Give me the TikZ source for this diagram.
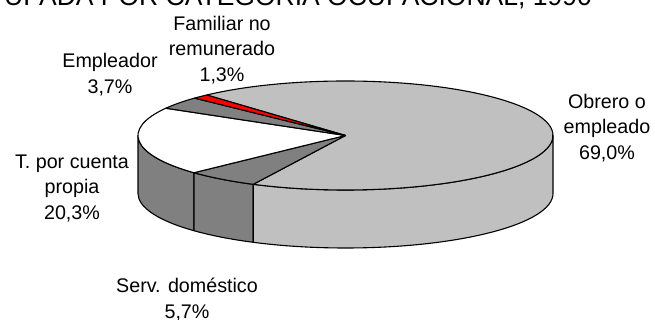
\documentclass[tikz,border=0pt]{standalone}
\usepackage{fontspec}
\setmainfont{Liberation Sans}
\definecolor{lightg}{HTML}{C0C0C0}
\definecolor{darkg}{HTML}{808080}
\begin{document}
\begin{tikzpicture}[x=1pt,y=1pt,
  lbl/.style={align=center,font=\fontsize{19.7}{25.5}\selectfont,inner sep=0pt},
  slice/.style={draw=black,line width=1.1pt,line join=round},
  ell/.style={x radius=207.5pt,y radius=54.5pt}]
\useasboundingbox (0,0) rectangle (655,320);
\coordinate (C) at (345.5,184.5);
% sides
\path[slice,fill=darkg] (C) ++(180:207.5pt and 54.5pt) arc[ell,start angle=180,end angle=223.08] -- ++(0,-58) arc[ell,start angle=223.08,end angle=180] -- cycle;
\path[slice,fill=darkg] (C) ++(223.08:207.5pt and 54.5pt) arc[ell,start angle=223.08,end angle=243.6] -- ++(0,-58) arc[ell,start angle=243.6,end angle=223.08] -- cycle;
\path[slice,fill=lightg] (C) ++(243.6:207.5pt and 54.5pt) arc[ell,start angle=243.6,end angle=360] -- ++(0,-58) arc[ell,start angle=360,end angle=243.6] -- cycle;
% top
\path[slice,fill=lightg] (C) -- ++(132:207.5pt and 54.5pt) arc[ell,start angle=132,end angle=-116.4] -- cycle;
\path[slice,fill=darkg] (C) -- ++(243.6:207.5pt and 54.5pt) arc[ell,start angle=243.6,end angle=223.08] -- cycle;
\path[slice,fill=white] (C) -- ++(223.08:207.5pt and 54.5pt) arc[ell,start angle=223.08,end angle=150] -- cycle;
\path[slice,fill=darkg] (C) -- ++(150:207.5pt and 54.5pt) arc[ell,start angle=150,end angle=136.68] -- cycle;
\path[slice,fill=red] (C) -- ++(136.68:207.5pt and 54.5pt) arc[ell,start angle=136.68,end angle=132] -- cycle;
% labels
\node[lbl] (fam) at (222,270) {Familiar no\\remunerado\\1,3\%};
\node[lbl] (emp) at (110,245.5) {Empleador\\3,7\%};
\node[lbl] (tcp) at (72,132) {T. por cuenta\\propia\\20,3\%};
\node[lbl] (obr) at (607,192) {Obrero o\\empleado\\69,0\%};
\node[lbl] (srv) at (187,20.5) {Serv. doméstico\\5,7\%};
\begin{scope}
\clip (0,0) rectangle (655,320);
\node[anchor=base east,inner sep=0pt,font=\fontsize{26.5}{30}\selectfont] (title) at (592,314) {UPADA POR CATEGORIA OCUPACIONAL, 1990};
\end{scope}
\end{tikzpicture}
\end{document}
